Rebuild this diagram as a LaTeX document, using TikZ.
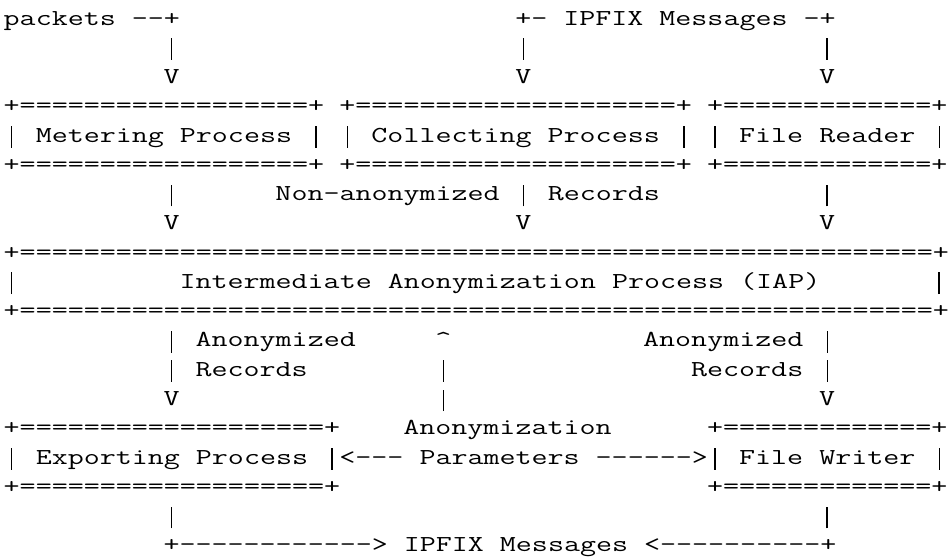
\documentclass[tikz,border=0pt]{standalone}
\usepackage{tikz}

% one hyphen, kept apart from the next one
\newcommand{\dsh}{-\kern0pt\relax}
% a full height bar, one column wide
\newcommand{\vb}{\makebox[\fontcharwd\font`\=]{\rule[-0.25em]{0.045em}{0.95em}}}

\tikzset{
  tt/.style={font=\ttfamily\fontsize{12}{14}\selectfont, inner sep=0pt, anchor=base west, xscale=1.362},
}

\begin{document}
\begin{tikzpicture}[x=8.4pt, y=15.38pt]
    \useasboundingbox (-0.2,0.854) rectangle (59.1,-18.238);
    % inputs
    \node[tt] (pk) at (0,0) {packets \dsh\dsh+};
    \node[tt] (ipin) at (32,0) {+- IPFIX Messages -+};
    \foreach \c in {10,32,51} {
      \node[tt] (inbar\c) at (\c,-1) {\vb};
      \node[tt] (inv\c) at (\c,-2) {V};
    }
    % first row of boxes
    \node[tt] (mtop) at (0,-3) {+==================+};
    \node[tt] (meter) at (0,-4) {\vb{} Metering Process \vb};
    \node[tt] (mbot) at (0,-5) {+==================+};
    \node[tt] (ctop) at (21,-3) {+====================+};
    \node[tt] (collect) at (21,-4) {\vb{} Collecting Process \vb};
    \node[tt] (cbot) at (21,-5) {+====================+};
    \node[tt] (rtop) at (44,-3) {+=============+};
    \node[tt] (reader) at (44,-4) {\vb{} File Reader \vb};
    \node[tt] (rbot) at (44,-5) {+=============+};
    % non-anonymized records
    \node[tt] (mbar) at (10,-6) {\vb};
    \node[tt] (nonanon) at (17,-6) {Non-anonymized \vb{} Records};
    \node[tt] (rbar) at (51,-6) {\vb};
    \foreach \c in {10,32,51} {
      \node[tt] (midv\c) at (\c,-7) {V};
    }
    % IAP
    \node[tt] (iaptop) at (0,-8) {+=========================================================+};
    \node[tt] (iapl) at (0,-9) {\vb};
    \node[tt] (iap) at (11,-9) {Intermediate Anonymization Process (IAP)};
    \node[tt] (iapr) at (58,-9) {\vb};
    \node[tt] (iapbot) at (0,-10) {+=========================================================+};
    % anonymized records and parameters
    \node[tt] (anonl) at (10,-11) {\vb{} Anonymized};
    \node[tt] (up) at (27,-11) {\textasciicircum};
    \node[tt] (anonr) at (40,-11) {Anonymized \vb};
    \node[tt] (recl) at (10,-12) {\vb{} Records};
    \node[tt] (upbar) at (27,-12) {\vb};
    \node[tt] (recr) at (43,-12) {Records \vb};
    \node[tt] (outvl) at (10,-13) {V};
    \node[tt] (upbar2) at (27,-13) {\vb};
    \node[tt] (outvr) at (51,-13) {V};
    % outputs
    \node[tt] (etop) at (0,-14) {+===================+};
    \node[tt] (export) at (0,-15) {\vb{} Exporting Process \vb};
    \node[tt] (ebot) at (0,-16) {+===================+};
    \node[tt] (param) at (25,-14) {Anonymization};
    \node[tt] (params) at (21,-15) {<\dsh\dsh\dsh{} Parameters \dsh\dsh\dsh\dsh\dsh\dsh>};
    \node[tt] (wtop) at (44,-14) {+=============+};
    \node[tt] (writer) at (44,-15) {\vb{} File Writer \vb};
    \node[tt] (wbot) at (44,-16) {+=============+};
    \node[tt] (ebar) at (10,-17) {\vb};
    \node[tt] (wbar) at (51,-17) {\vb};
    \node[tt] (ipout) at (10,-18) {+\dsh\dsh\dsh\dsh\dsh\dsh\dsh\dsh\dsh\dsh\dsh\dsh> IPFIX Messages <\dsh\dsh\dsh\dsh\dsh\dsh\dsh\dsh\dsh\dsh+};
  \end{tikzpicture}
\end{document}
